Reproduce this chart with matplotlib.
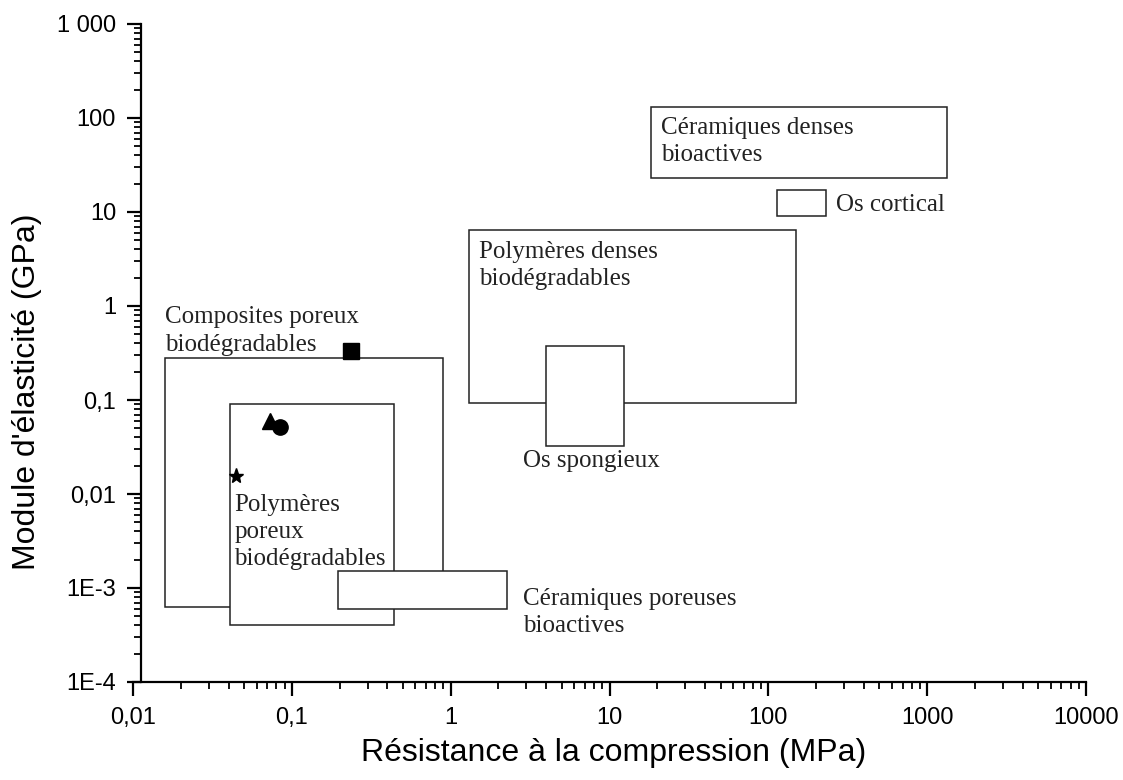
import matplotlib
matplotlib.use("Agg")
import matplotlib.pyplot as plt
from matplotlib.patches import Rectangle
from matplotlib.ticker import FixedLocator, FixedFormatter, LogLocator, NullFormatter

# material domains: (name, x_min, x_max, y_min, y_max) - MPa / GPa
names = ["Composites poreux", "Polymères poreux", "Céramiques poreuses",
         "Polymères denses", "Os spongieux", "Céramiques denses", "Os cortical"]
x_min = [0.016, 0.041, 0.195, 1.30, 4.0, 18.2, 113]
x_max = [0.90, 0.44, 2.25, 150, 12.3, 1340, 231]
y_min = [6.3e-4, 4.07e-4, 6.0e-4, 0.0935, 0.0327, 23.0, 9.15]
y_max = [0.282, 0.0914, 1.53e-3, 6.44, 0.378, 132, 17.3]

# labels and their anchor (left, top) in data coords
labels = ["Composites poreux\nbiodégradables",
          "Polymères\nporeux\nbiodégradables",
          "Céramiques poreuses\nbioactives",
          "Polymères denses\nbiodégradables",
          "Os spongieux",
          "Céramiques denses\nbioactives",
          "Os cortical"]
label_x = [0.016, 0.0433, 2.87, 1.51, 2.87, 21, 268]
label_y = [0.99, 0.0100, 1.01e-3, 4.9, 0.0295, 102, 11.8]
label_va = ["top", "top", "top", "top", "top", "top", "center"]

# individual scaffolds
pt_x = [0.236, 0.0731, 0.0843, 0.0447]
pt_y = [0.332, 0.0602, 0.0517, 0.0155]
pt_marker = ["s", "^", "o", "*"]
pt_size = [12, 11, 11, 11]

xticks = [0.01, 0.1, 1, 10, 100, 1000, 10000]
xticklabels = ["0,01", "0,1", "1", "10", "100", "1000", "10000"]
yticks = [1e-4, 1e-3, 0.01, 0.1, 1, 10, 100, 1000]
yticklabels = ["1E-4", "1E-3", "0,01", "0,1", "1", "10", "100", "1 000"]

sans = ["Liberation Sans", "DejaVu Sans"]
serif = ["Liberation Serif", "DejaVu Serif"]

fig = plt.figure(figsize=(11.23, 7.8), dpi=100)
ax = fig.add_axes([133 / 1123, 98 / 780, (1086 - 133) / 1123, (682 - 24) / 780])
ax.set_xscale("log")
ax.set_yscale("log")
ax.set_xlim(0.01, 10000)
ax.set_ylim(1e-4, 1000)

for x0, x1, y0, y1 in zip(x_min, x_max, y_min, y_max):
    ax.add_patch(Rectangle((x0, y0), x1 - x0, y1 - y0, facecolor="white",
                           edgecolor="#222222", linewidth=1.1))

for t, x, y, va in zip(labels, label_x, label_y, label_va):
    ax.text(x, y, t, ha="left", va=va, fontsize=18, family=serif,
            linespacing=1.3, color="#222222")

for x, y, m, s in zip(pt_x, pt_y, pt_marker, pt_size):
    ax.plot([x], [y], marker=m, ms=s, color="black", ls="none", zorder=5,
            clip_on=False)

for side in ["top", "right"]:
    ax.spines[side].set_visible(False)
for side in ["left", "bottom"]:
    ax.spines[side].set_linewidth(1.6)
ax.spines["left"].set_position(("axes", 8 / 953))

ax.xaxis.set_major_locator(FixedLocator(xticks))
ax.xaxis.set_major_formatter(FixedFormatter(xticklabels))
ax.yaxis.set_major_locator(FixedLocator(yticks))
ax.yaxis.set_major_formatter(FixedFormatter(yticklabels))
for a in (ax.xaxis, ax.yaxis):
    a.set_minor_locator(LogLocator(base=10, subs=range(2, 10), numticks=20))
    a.set_minor_formatter(NullFormatter())
ax.tick_params(which="major", direction="out", length=10, width=1.6,
               labelsize=17, pad=8)
ax.tick_params(which="minor", direction="out", length=5, width=1.3)
for lab in ax.get_xticklabels() + ax.get_yticklabels():
    lab.set_family(sans)

ax.set_xlabel("Résistance à la compression (MPa)", fontsize=23, family=sans)
ax.set_ylabel("Module d'élasticité (GPa)", fontsize=23, family=sans)
ax.xaxis.set_label_coords((614 - 133) / 953, (682 - 753) / 658)
ax.yaxis.set_label_coords((27 - 133) / 953, (682 - 392) / 658)
ax.xaxis.label.set_va("center")
ax.yaxis.label.set_va("center")

fig.savefig("out.png", dpi=100)
